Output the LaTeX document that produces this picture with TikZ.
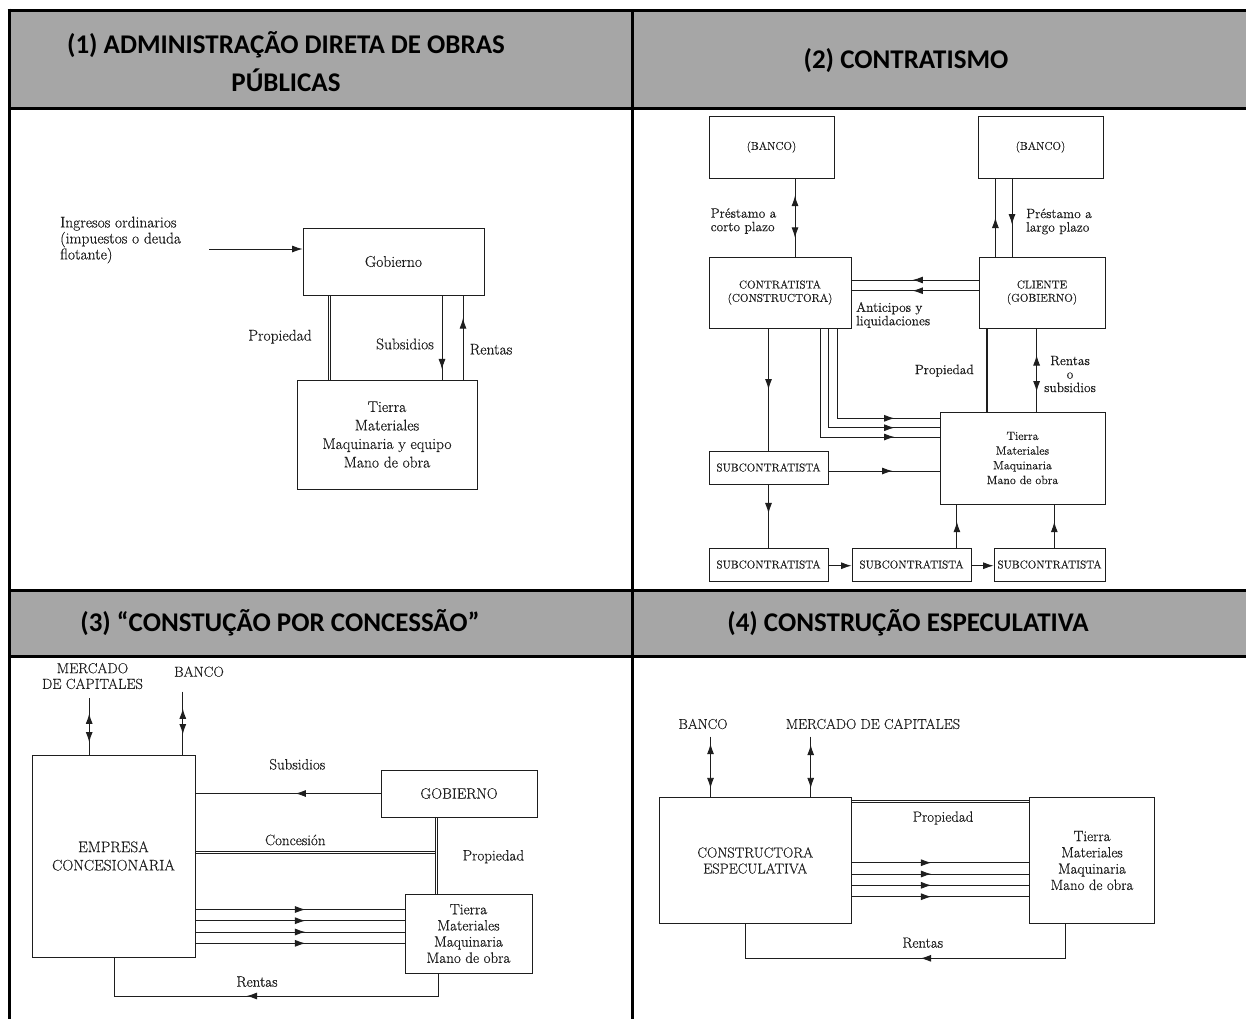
\documentclass[tikz,border=0pt]{standalone}
\usepackage{fontspec}
\setmainfont{Latin Modern Roman}[FakeBold=0.4]
\newfontfamily\hdrfont{Carlito}
\usetikzlibrary{arrows.meta,decorations.markings}
\definecolor{hdr}{RGB}{166,166,166}
\definecolor{ink}{RGB}{30,30,30}
\begin{document}
\begin{tikzpicture}[x=1pt,y=-1pt,
  >={Latex[length=10.5pt,width=7pt]},
  ln/.style={draw=ink,line width=0.9pt},
  bx/.style={draw=ink,line width=0.9pt,inner sep=0pt,align=center,text=ink},
  dblv/.style={draw=none,
    postaction={draw=ink,line width=0.7pt,transform canvas={xshift=-1.1pt}},
    postaction={draw=ink,line width=0.7pt,transform canvas={xshift=1.1pt}}},
  dblh/.style={draw=none,
    postaction={draw=ink,line width=0.7pt,transform canvas={yshift=-1.1pt}},
    postaction={draw=ink,line width=0.7pt,transform canvas={yshift=1.1pt}}},
  dblk/.style={draw=none,
    postaction={draw=ink,line width=1.1pt,transform canvas={xshift=-0.9pt}},
    postaction={draw=ink,line width=1.1pt,transform canvas={xshift=0.9pt}}},
  marr/.style={postaction={decorate,decoration={markings,mark=at position #1 with {\arrow{>}}}}},
  mrev/.style={postaction={decorate,decoration={markings,mark=at position #1 with {\arrowreversed{>}}}}},
  lbl/.style={inner sep=0pt,text=ink,align=center},
  hd/.style={inner sep=0pt,align=center,text=black,font=\hdrfont\bfseries\fontsize{27}{38}\selectfont},
  gridln/.style={line width=3pt,draw=black},
  pa/.style={font=\fontsize{15.5}{18.5}\selectfont},
  pb/.style={font=\fontsize{11.3}{13.3}\selectfont},
  pbt/.style={font=\fontsize{13.5}{13.5}\selectfont},
  pbb/.style={font=\fontsize{12}{14.7}\selectfont},
  pc/.style={font=\fontsize{15}{16.2}\selectfont},
  pd/.style={font=\fontsize{14.8}{16.3}\selectfont},
]
\useasboundingbox (0,0) rectangle (1246,1018);
\fill[white] (0,0) rectangle (1246,1018);
% table
\fill[hdr] (9,10) rectangle (1250,108);
\fill[hdr] (9,590) rectangle (1250,656);
\draw[gridln] (7.5,10) -- (1250,10);
\draw[gridln] (9,108) -- (1250,108);
\draw[gridln] (9,590) -- (1250,590);
\draw[gridln] (9,656) -- (1250,656);
\draw[gridln] (9,8.5) -- (9,1025);
\draw[gridln] (632,10) -- (632,1025);
\node[hd] (h1) at (286,62) {(1) ADMINISTRAÇÃO DIRETA DE OBRAS\\PÚBLICAS};
\node[hd] (h2) at (906,61) {(2) CONTRATISMO};
\node[hd] (h3) at (280,623) {(3) “CONSTUÇÃO POR CONCESSÃO”};
\node[hd] (h4) at (908,623) {(4) CONSTRUÇÃO ESPECULATIVA};

% ---------- panel 1
\node[bx,pa,minimum width=181pt,minimum height=67pt] (gob1) at (393.5,261.5) {Gobierno};
\node[bx,pa,minimum width=180pt,minimum height=109pt] (tie1) at (387,434.5) {Tierra\\Materiales\\Maquinaria y equipo\\Mano de obra};
\node[lbl,align=left,anchor=west,font=\fontsize{15.5}{16}\selectfont] (ing) at (60,240) {Ingresos ordinarios\\(impuestos o deuda\\flotante)};
\coordinate (ingS) at (209,249);
\draw[ln,->] (ingS) -- (gob1.west |- ingS);
\draw[dblv] (329,0 |- gob1.south) -- (329,0 |- tie1.north);
\draw[ln,marr=0.88] (442,0 |- gob1.south) -- (442,0 |- tie1.north);
\draw[ln,marr=0.73] (463,0 |- tie1.north) -- (463,0 |- gob1.south);
\node[lbl,pa] (l1a) at (280,336.7) {Propiedad};
\node[lbl,pa] (l1b) at (405,344) {Subsidios};
\node[lbl,pa] (l1c) at (491,349.3) {Rentas};

% ---------- panel 2
\node[bx,pb,minimum width=125pt,minimum height=62pt] (bk2a) at (771.5,147) {(BANCO)};
\node[bx,pb,minimum width=125pt,minimum height=62pt] (bk2b) at (1040.5,147) {(BANCO)};
\node[bx,pb,minimum width=142pt,minimum height=71pt] (ctr) at (780,292.5) {CONTRATISTA\\(CONSTRUCTORA)};
\node[bx,pb,minimum width=126pt,minimum height=71pt] (cli) at (1042,292.5) {CLIENTE\\(GOBIERNO)};
\node[bx,pbb,minimum width=165pt,minimum height=92pt] (tie2) at (1022.5,458) {Tierra\\Materiales\\Maquinaria\\Mano de obra};
\node[bx,pb,minimum width=119pt,minimum height=33pt] (sub0) at (768.5,467.5) {SUBCONTRATISTA};
\node[bx,pb,minimum width=119pt,minimum height=33pt] (sub1) at (768.5,564.5) {SUBCONTRATISTA};
\node[bx,pb,minimum width=119pt,minimum height=33pt] (sub2) at (911.5,564.5) {SUBCONTRATISTA};
\node[bx,pb,minimum width=111pt,minimum height=33pt] (sub3) at (1049.5,564.5) {SUBCONTRATISTA};
\draw[ln,mrev=0.22,marr=0.76] (795,0 |- bk2a.south) -- (795,0 |- ctr.north);
\draw[ln,marr=0.5] (995.4,0 |- cli.north) -- (995.4,0 |- bk2b.south);
\draw[ln,marr=0.59] (1012,0 |- bk2b.south) -- (1012,0 |- cli.north);
\draw[ln,marr=0.52] (cli.west |- 0,280) -- (ctr.east |- 0,280);
\draw[ln,marr=0.52] (cli.west |- 0,290.7) -- (ctr.east |- 0,290.7);
\draw[ln,marr=0.5] (ctr.south -| sub0.north) -- (sub0.north);
\draw[ln,marr=-45pt] (837,0 |- ctr.south) -- (837,418.3) -- (tie2.west |- 0,418.3);
\draw[ln,marr=-45pt] (828.8,0 |- ctr.south) -- (828.8,427.7) -- (tie2.west |- 0,427.7);
\draw[ln,marr=-45pt] (820.2,0 |- ctr.south) -- (820.2,437) -- (tie2.west |- 0,437);
\draw[ln,marr=-47pt] (sub0.east |- 0,471) -- (tie2.west |- 0,471);
\draw[ln,marr=0.46] (sub0.south) -- (sub1.north);
\draw[ln,->] (sub1.east |- 0,565.7) -- (sub2.west |- 0,565.7);
\draw[ln,->] (sub2.east |- 0,565.7) -- (sub3.west |- 0,565.7);
\draw[ln,marr=0.6] (956.9,0 |- sub2.north) -- (956.9,0 |- tie2.south);
\draw[ln,marr=0.6] (1054.3,0 |- sub3.north) -- (1054.3,0 |- tie2.south);
\draw[dblk] (987,0 |- cli.south) -- (987,0 |- tie2.north);
\draw[ln,mrev=0.32,marr=0.76] (1036.6,0 |- cli.south) -- (1036.6,0 |- tie2.north);
\node[lbl,pbt,align=left,anchor=west] (n2a) at (710.5,221) {Préstamo a\\corto plazo};
\node[lbl,pbt,align=left,anchor=west] (n2b) at (1026,221.5) {Préstamo a\\largo plazo};
\node[lbl,pbt,align=left,anchor=west] (n2c) at (856,315) {Anticipos y\\liquidaciones};
\node[lbl,pbt] (n2d) at (944.3,370.7) {Propiedad};
\node[lbl,pbt] (n2e) at (1070,374) {Rentas\\o\\subsidios};

% ---------- panel 3
\node[bx,font=\fontsize{15.3}{18.3}\selectfont,minimum width=163pt,minimum height=202pt] (emp) at (113.5,856) {EMPRESA\\CONCESIONARIA};
\node[bx,pc,minimum width=156pt,minimum height=47pt] (gob3) at (459,793.5) {GOBIERNO};
\node[bx,pc,minimum width=127pt,minimum height=79pt] (tie3) at (468.5,933.5) {Tierra\\Materiales\\Maquinaria\\Mano de obra};
\node[lbl,font=\fontsize{14.5}{15.7}\selectfont] (mk3) at (92.5,676) {MERCADO\\DE CAPITALES};
\node[lbl,font=\fontsize{14.5}{15.7}\selectfont] (bk3) at (199,671.7) {BANCO};
\coordinate (mk3a) at (89.2,698.3);
\coordinate (bk3a) at (182.8,691.7);
\draw[ln,line width=1.2pt,mrev=15pt,marr=-12pt] (mk3a) -- (mk3a |- emp.north);
\draw[ln,line width=1.2pt,mrev=16.6pt,marr=-20pt] (bk3a) -- (bk3a |- emp.north);
\draw[ln,marr=0.46] (gob3.west) -- (emp.east |- gob3.west);
\draw[dblv] (436,0 |- gob3.south) -- (436,0 |- tie3.north);
\coordinate (cj) at (434.9,852);
\draw[dblh] (emp.east |- cj) -- (cj);
\foreach \yy in {909.5,920.7,932,943.3}
  \draw[ln,marr=110pt] (emp.east |- 0,\yy) -- (tie3.west |- 0,\yy);
\draw[ln,marr=214pt] (438,0 |- tie3.south) -- (438,996) -- (114.5,996) -- (114.5,0 |- emp.south);
\node[lbl,pc] (l3a) at (297.3,764.3) {Subsidios};
\node[lbl,pc] (l3b) at (295.3,840) {Concesión};
\node[lbl,pc] (l3c) at (493.4,856.7) {Propiedad};
\node[lbl,pc] (l3d) at (257,981.7) {Rentas};

% ---------- panel 4
\node[bx,font=\fontsize{14.4}{16}\selectfont,minimum width=191.5pt,minimum height=125.5pt] (con4) at (755.25,860.5) {CONSTRUCTORA\\ESPECULATIVA};
\node[bx,pd,minimum width=125pt,minimum height=125.5pt] (tie4) at (1092,860.5) {Tierra\\Materiales\\Maquinaria\\Mano de obra};
\node[lbl,font=\fontsize{14.3}{16}\selectfont] (bk4) at (703,724) {BANCO};
\node[lbl,font=\fontsize{14.3}{16}\selectfont] (mk4) at (873,724) {MERCADO DE CAPITALES};
\coordinate (bk4a) at (710.5,736.7);
\coordinate (mk4a) at (810.7,736.7);
\draw[ln,mrev=7pt,marr=-9pt] (bk4a) -- (bk4a |- con4.north);
\draw[ln,mrev=8pt,marr=-9pt] (mk4a) -- (mk4a |- con4.north);
\draw[dblh] (con4.east |- 0,801) -- (tie4.west |- 0,801);
\foreach \yy in {862.7,874,885.3,896.7}
  \draw[ln,marr=80pt] (con4.east |- 0,\yy) -- (tie4.west |- 0,\yy);
\draw[ln,marr=179pt] (1065,0 |- tie4.south) -- (1065,958.3) -- (745,958.3) -- (745,0 |- con4.south);
\node[lbl,pd] (l4a) at (943,818) {Propiedad};
\node[lbl,pd] (l4b) at (922.7,942.7) {Rentas};
\end{tikzpicture}
\end{document}
